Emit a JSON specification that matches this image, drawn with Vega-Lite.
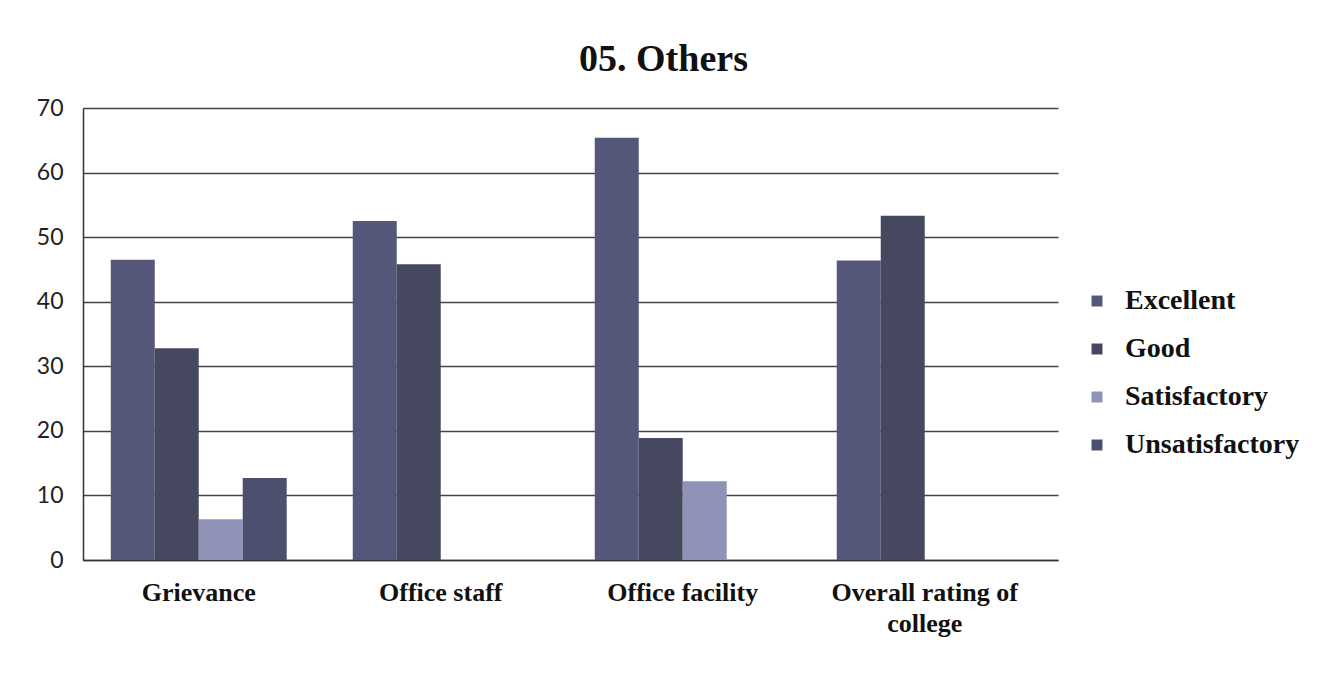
{
  "$schema": "https://vega.github.io/schema/vega-lite/v6.json",
  "width": 975,
  "height": 452,
  "padding": {"left": 36, "top": 41, "right": 10, "bottom": 10},
  "background": "white",
  "title": {
    "text": "05. Others",
    "font": "Liberation Serif",
    "fontSize": 38,
    "fontWeight": "bold",
    "color": "#111",
    "anchor": "middle",
    "dx": 93,
    "offset": 18
  },
  "data": {
    "values": [
      {"category": "Grievance", "rating": "Excellent", "value": 46.5},
      {"category": "Grievance", "rating": "Good", "value": 32.8},
      {"category": "Grievance", "rating": "Satisfactory", "value": 6.3},
      {"category": "Grievance", "rating": "Unsatisfactory", "value": 12.7},
      {"category": "Office staff", "rating": "Excellent", "value": 52.5},
      {"category": "Office staff", "rating": "Good", "value": 45.8},
      {"category": "Office staff", "rating": "Satisfactory", "value": 0},
      {"category": "Office staff", "rating": "Unsatisfactory", "value": 0},
      {"category": "Office facility", "rating": "Excellent", "value": 65.4},
      {"category": "Office facility", "rating": "Good", "value": 18.9},
      {"category": "Office facility", "rating": "Satisfactory", "value": 12.2},
      {"category": "Office facility", "rating": "Unsatisfactory", "value": 0},
      {"category": "Overall rating of college", "rating": "Excellent", "value": 46.4},
      {"category": "Overall rating of college", "rating": "Good", "value": 53.3},
      {"category": "Overall rating of college", "rating": "Satisfactory", "value": 0},
      {"category": "Overall rating of college", "rating": "Unsatisfactory", "value": 0}
    ]
  },
  "mark": {"type": "bar"},
  "encoding": {
    "x": {
      "field": "category",
      "type": "nominal",
      "sort": ["Grievance", "Office staff", "Office facility", "Overall rating of college"],
      "scale": {"paddingInner": 0.273, "paddingOuter": 0.151, "align": 0.38},
      "axis": {
        "title": null,
        "labelAngle": 0,
        "labelFont": "Liberation Serif",
        "labelFontSize": 26,
        "labelFontWeight": "bold",
        "labelColor": "#111",
        "labelPadding": 19,
        "labelLineHeight": 31,
        "labelLimit": 0,
        "ticks": false,
        "domainColor": "#333",
        "domainWidth": 1.5,
        "labelExpr": "datum.label == 'Overall rating of college' ? ['Overall rating of', 'college'] : datum.label"
      }
    },
    "xOffset": {
      "field": "rating",
      "type": "nominal",
      "sort": ["Excellent", "Good", "Satisfactory", "Unsatisfactory"],
      "scale": {"paddingInner": 0, "paddingOuter": 0}
    },
    "y": {
      "field": "value",
      "type": "quantitative",
      "scale": {"domain": [0, 70]},
      "axis": {
        "title": null,
        "values": [0, 10, 20, 30, 40, 50, 60, 70],
        "labelFont": "Lato",
        "labelFontSize": 23,
        "labelColor": "#222",
        "labelPadding": 20,
        "ticks": false,
        "domain": true,
        "domainColor": "#333",
        "domainWidth": 1.5,
        "grid": true,
        "gridColor": "#444",
        "gridWidth": 1.3
      }
    },
    "color": {
      "field": "rating",
      "type": "nominal",
      "sort": ["Excellent", "Good", "Satisfactory", "Unsatisfactory"],
      "scale": {
        "domain": ["Excellent", "Good", "Satisfactory", "Unsatisfactory"],
        "range": ["#545779", "#46485f", "#9092b8", "#4d4f6e"]
      },
      "legend": {
        "title": null,
        "orient": "none",
        "legendX": 1000,
        "legendY": 179,
        "symbolType": "square",
        "symbolSize": 120,
        "symbolStrokeWidth": 0,
        "labelFont": "Liberation Serif",
        "labelFontSize": 28,
        "labelFontWeight": "bold",
        "labelColor": "#111",
        "labelOffset": 14,
        "labelLimit": 0,
        "rowPadding": 20
      }
    }
  },
  "config": {
    "view": {"stroke": null}
  }
}
